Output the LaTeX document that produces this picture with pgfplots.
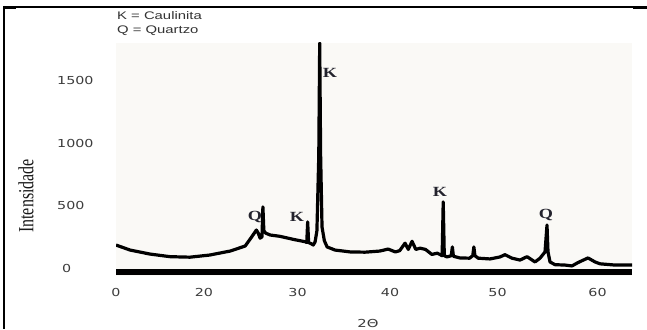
\documentclass[border=0pt]{standalone}
\usepackage{pgfplots}
\pgfplotsset{compat=1.18}
\usepackage{fontspec}
\setmainfont{Liberation Serif}
\newfontfamily\dejavu{DejaVu Sans}
\newfontfamily\arialf{Liberation Sans}
\definecolor{bgc}{RGB}{250,249,246}
\definecolor{tickc}{RGB}{60,60,60}
\definecolor{lblc}{RGB}{35,35,45}
\pgfplotstableread{
x y
0.0 185
3.2 145
7.7 113
12.3 92
16.8 88
20.6 105
22.8 137
24.4 177
25.1 250
25.6 305
25.8 280
26.0 240
26.2 250
26.3 490
26.4 300
26.6 280
27.1 265
28.1 255
29.7 228
30.8 212
31.0 205
31.1 370
31.2 205
31.5 195
31.7 185
31.9 210
32.1 300
32.3 900
32.4 1800
32.5 900
32.65 330
32.9 220
33.2 170
34.05 145
35.7 130
37.3 128
38.9 137
39.8 153
40.5 130
40.9 140
41.4 200
41.7 150
42.05 215
42.4 150
42.8 160
43.3 150
43.9 110
44.4 120
44.85 100
44.95 530
45.05 100
45.3 90
45.7 100
45.8 170
45.9 95
46.5 82
47.4 80
47.7 100
47.8 170
47.9 100
48.2 80
49.3 74
50.25 90
50.75 108
51.45 80
52.25 65
52.95 92
53.75 50
54.25 80
54.75 130
54.95 345
55.05 130
55.25 50
55.75 28
56.75 25
57.45 18
58.05 45
59.05 82
59.75 50
60.25 35
61.75 25
63.45 25
}\xrd
\begin{document}
\begin{tikzpicture}[x=1pt,y=1pt]
\useasboundingbox (0,0) rectangle (647,329);
\fill[white] (0,0) rectangle (647,329);
\begin{axis}[
  at={(116pt,53pt)}, anchor=south west,
  scale only axis, width=516pt, height=233pt,
  x coord trafo/.code={\pgfmathparse{#1<20 ? 4.4*#1 : (#1<30 ? 88+9.35*(#1-20) : (#1<40 ? 181.5+9.25*(#1-30) : (#1<50 ? 274+10.75*(#1-40) : 381.5+10*(#1-50))))}},
  xmin=0, xmax=63.45, ymin=-62.4, ymax=1800,
  axis background/.style={fill=bgc},
  axis line style={draw=none},
  tick style={draw=none},
  xtick={0,20,30,40,50,60},
  xticklabels={\scalebox{1.3}[1]{0},\scalebox{1.3}[1]{20},\scalebox{1.3}[1]{30},\scalebox{1.3}[1]{40},\scalebox{1.3}[1]{50},\scalebox{1.3}[1]{60}},
  ytick={0,500,1000,1500},
  yticklabels={\hspace*{5pt}\scalebox{1.3}[1]{0},\scalebox{1.3}[1]{500},\scalebox{1.3}[1]{1000},\scalebox{1.3}[1]{1500}},
  xticklabel style={anchor=center, yshift=-16pt, inner sep=0pt, font=\dejavu\fontsize{11}{13}\selectfont, text=tickc},
  yticklabel style={anchor=west, xshift=-59pt, inner sep=0pt, font=\dejavu\fontsize{11}{13}\selectfont, text=tickc},
]
\addplot[black, line width=5.5pt] coordinates {(0,-30) (63.45,-30)};
\addplot[black, line width=3.2pt, line join=round] table[x=x,y=y] {\xrd};
\end{axis}
% frame
\draw[black, line width=1.3pt] (3,322) -- (647,322);
\draw[black, line width=2pt] (4,323) -- (4,0);
\fill[black] (3,323) rectangle (16,319.5);
\fill[black] (633,322.5) rectangle (647,320);
% legend text
\node[anchor=base west, inner sep=0pt, text=black!80, font=\arialf\fontsize{11}{13}\selectfont] at (117,309) {\scalebox{1.35}[1]{K = Caulinita}};
\node[anchor=base west, inner sep=0pt, text=black!80, font=\arialf\fontsize{11}{13}\selectfont] at (117,295.5) {\scalebox{1.35}[1]{Q = Quartzo}};
% axis titles
\node[rotate=90, inner sep=0pt, text=black!90, font=\fontsize{16}{18}\selectfont] at (26,133) {\scalebox{1}[1.35]{Intensidade}};
\node[inner sep=0pt, text=tickc, font=\dejavu\fontsize{11}{13}\selectfont] at (368,6) {\scalebox{1.35}[1]{2Θ}};
% peak labels
\node[inner sep=0pt, text=lblc, font=\bfseries\fontsize{14}{16}\selectfont] at (255,112) {\scalebox{1.3}[1]{Q}};
\node[inner sep=0pt, text=lblc, font=\bfseries\fontsize{14}{16}\selectfont] at (297,112) {\scalebox{1.3}[1]{K}};
\node[inner sep=0pt, text=lblc, font=\bfseries\fontsize{14}{16}\selectfont] at (330,256) {\scalebox{1.3}[1]{K}};
\node[inner sep=0pt, text=lblc, font=\bfseries\fontsize{14}{16}\selectfont] at (440,137) {\scalebox{1.3}[1]{K}};
\node[inner sep=0pt, text=lblc, font=\bfseries\fontsize{14}{16}\selectfont] at (546,114) {\scalebox{1.3}[1]{Q}};
\end{tikzpicture}
\end{document}
